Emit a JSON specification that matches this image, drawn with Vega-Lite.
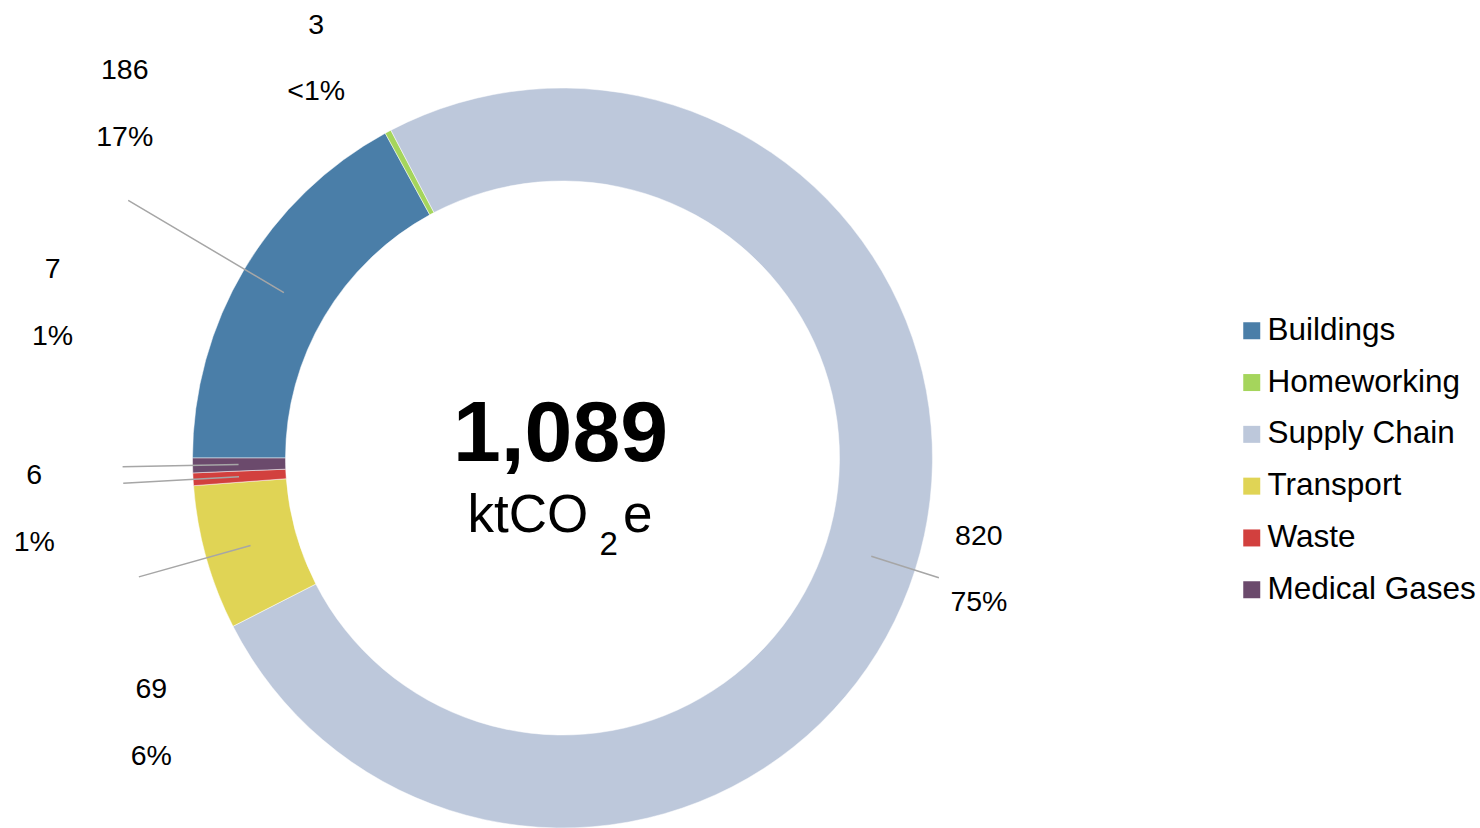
{
  "$schema": "https://vega.github.io/schema/vega-lite/v6.json",
  "width": 1125,
  "height": 742,
  "autosize": {"type": "none"},
  "padding": {"left": 0, "top": 87, "right": 355, "bottom": 0},
  "background": "#ffffff",
  "config": {"view": {"stroke": null}, "font": "Liberation Sans"},
  "datasets": {
    "center": [{"total": "1,089", "unit": "ktCO", "sub": "2", "suffix": "e"}]
  },
  "data": {
    "values": [
      {"category": "Buildings", "value": 186, "pct": "17%"},
      {"category": "Homeworking", "value": 3, "pct": "<1%"},
      {"category": "Supply Chain", "value": 820, "pct": "75%"},
      {"category": "Transport", "value": 69, "pct": "6%"},
      {"category": "Waste", "value": 6, "pct": "1%"},
      {"category": "Medical Gases", "value": 7, "pct": "1%"}
    ]
  },
  "transform": [{"window": [{"op": "row_number", "as": "idx"}]}],
  "layer": [
    {
      "mark": {"type": "arc", "outerRadius": 370, "innerRadius": 277, "stroke": "#ffffff", "strokeWidth": 0.5},
      "encoding": {
        "theta": {"field": "value", "type": "quantitative", "stack": true, "scale": {"range": [4.71238898, 10.99557429], "nice": false}},
        "order": {"field": "idx", "type": "quantitative"},
        "color": {
          "field": "category",
          "type": "nominal",
          "scale": {
            "domain": ["Buildings", "Homeworking", "Supply Chain", "Transport", "Waste", "Medical Gases"],
            "range": ["#4a7ea8", "#a5d55c", "#bdc8db", "#e0d455", "#d2403e", "#6b4a6c"]
          },
          "legend": {
            "title": null,
            "orient": "none",
            "legendX": 1236,
            "legendY": 228,
            "symbolType": "square",
            "symbolSize": 289,
            "symbolStrokeWidth": 0,
            "symbolOpacity": 1,
            "labelFont": "Liberation Sans",
            "labelFontSize": 31.5,
            "labelColor": "#000000",
            "labelOffset": 0,
            "labelLimit": 400,
            "rowPadding": 18.8,
            "padding": 0
          }
        }
      }
    },
    {
      "transform": [
        {"stack": "value", "groupby": [], "sort": [{"field": "idx", "order": "ascending"}], "as": ["s0", "s1"]},
        {"fold": ["s0", "s1"], "as": ["edge", "pos"]},
        {"joinaggregate": [{"op": "mean", "field": "pos", "as": "mid"}], "groupby": ["category"]},
        {"filter": "datum.edge === 's0'"}
      ],
      "layer": [
        {
          "transform": [{"filter": "datum.category === 'Buildings'"}],
          "mark": {"type": "arc", "outerRadius": 505, "innerRadius": 324, "filled": false, "stroke": "#a6a6a6", "strokeWidth": 1.5},
          "encoding": {
            "theta": {"field": "mid", "type": "quantitative", "stack": null},
            "theta2": {"field": "mid"}
          }
        },
        {
          "transform": [{"filter": "datum.category === 'Transport' || datum.category === 'Waste' || datum.category === 'Medical Gases'"}],
          "mark": {"type": "arc", "outerRadius": 440, "innerRadius": 324, "filled": false, "stroke": "#a6a6a6", "strokeWidth": 1.5},
          "encoding": {
            "theta": {"field": "mid", "type": "quantitative", "stack": null},
            "theta2": {"field": "mid"}
          }
        },
        {
          "transform": [{"filter": "datum.category === 'Supply Chain'"}],
          "mark": {"type": "arc", "outerRadius": 395, "innerRadius": 324, "filled": false, "stroke": "#a6a6a6", "strokeWidth": 1.5},
          "encoding": {
            "theta": {"field": "mid", "type": "quantitative", "stack": null},
            "theta2": {"field": "mid"}
          }
        },
        {
          "mark": {
            "type": "text",
            "radius": 480,
            "font": "Liberation Sans",
            "fontSize": 28.5,
            "color": "#000000",
            "align": "center",
            "baseline": "middle",
            "dx": {"expr": "datum.category === 'Buildings' ? -25 : datum.category === 'Homeworking' ? -20 : datum.category === 'Supply Chain' ? -41 : datum.category === 'Transport' ? 51 : datum.category === 'Waste' ? -49 : -30"},
            "dy": {"expr": "datum.category === 'Buildings' ? -143 : datum.category === 'Homeworking' ? -10 : datum.category === 'Supply Chain' ? -68 : datum.category === 'Transport' ? 101 : datum.category === 'Waste' ? -11 : -199"}
          },
          "encoding": {
            "theta": {"field": "mid", "type": "quantitative", "stack": null},
            "text": {"field": "value", "type": "quantitative"}
          }
        },
        {
          "mark": {
            "type": "text",
            "radius": 480,
            "font": "Liberation Sans",
            "fontSize": 28.5,
            "color": "#000000",
            "align": "center",
            "baseline": "middle",
            "dx": {"expr": "datum.category === 'Buildings' ? -25 : datum.category === 'Homeworking' ? -20 : datum.category === 'Supply Chain' ? -41 : datum.category === 'Transport' ? 51 : datum.category === 'Waste' ? -49 : -30"},
            "dy": {"expr": "datum.category === 'Buildings' ? -76 : datum.category === 'Homeworking' ? 56 : datum.category === 'Supply Chain' ? -2 : datum.category === 'Transport' ? 168 : datum.category === 'Waste' ? 56 : -132"}
          },
          "encoding": {
            "theta": {"field": "mid", "type": "quantitative", "stack": null},
            "text": {"field": "pct", "type": "nominal"}
          }
        }
      ]
    },
    {
      "data": {"name": "center"},
      "mark": {"type": "text", "font": "Liberation Sans", "fontSize": 86, "fontWeight": "bold", "color": "#000000", "align": "center", "baseline": "alphabetic", "dx": -2, "dy": 3},
      "encoding": {"text": {"field": "total", "type": "nominal"}}
    },
    {
      "data": {"name": "center"},
      "mark": {"type": "text", "font": "Liberation Sans", "fontSize": 53, "color": "#000000", "align": "left", "baseline": "alphabetic", "dx": -95, "dy": 73.5},
      "encoding": {"text": {"field": "unit", "type": "nominal"}}
    },
    {
      "data": {"name": "center"},
      "mark": {"type": "text", "font": "Liberation Sans", "fontSize": 33, "color": "#000000", "align": "left", "baseline": "alphabetic", "dx": 37, "dy": 97},
      "encoding": {"text": {"field": "sub", "type": "nominal"}}
    },
    {
      "data": {"name": "center"},
      "mark": {"type": "text", "font": "Liberation Sans", "fontSize": 53, "color": "#000000", "align": "left", "baseline": "alphabetic", "dx": 60.5, "dy": 73.5},
      "encoding": {"text": {"field": "suffix", "type": "nominal"}}
    }
  ]
}
